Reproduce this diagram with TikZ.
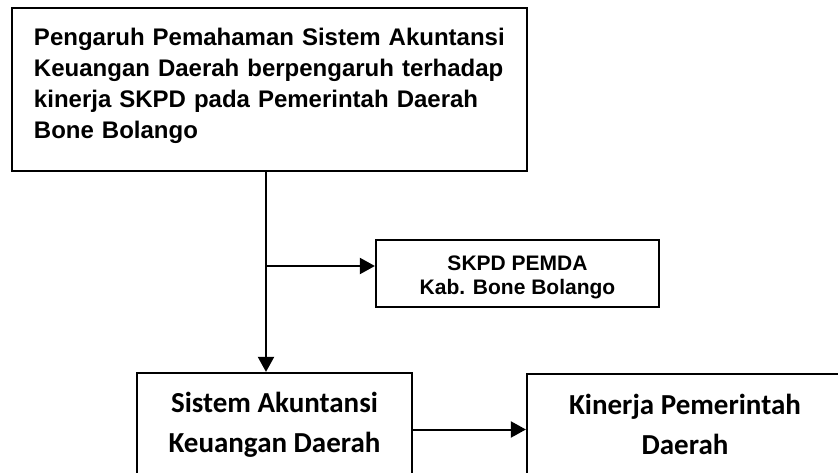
\documentclass[tikz,border=0pt]{standalone}
\usepackage{fontspec}
\setmainfont{Liberation Sans}
\newfontfamily\calibri{Carlito}
\usetikzlibrary{arrows.meta, positioning}

\tikzset{
  box/.style={draw, line width=2.2pt, inner sep=0pt},
  arr/.style={line width=2pt, -{Triangle[length=15pt,width=16pt]}},
}

\begin{document}
\begin{tikzpicture}[x=1pt, y=-1pt]
  \path[use as bounding box, fill=white] (0,0) rectangle (838,473);
  \clip (0,0) rectangle (838,473);

  \node[box, minimum width=515pt, minimum height=163pt, text width=471pt, align=left,
        font=\bfseries\fontsize{24}{31}\selectfont] (pg) at (269.5,89.5)
    {Pengaruh Pemahaman Sistem Akuntansi\\ Keuangan Daerah berpengaruh terhadap\\ kinerja SKPD pada Pemerintah Daerah\\ Bone Bolango\rule[-13pt]{0pt}{0pt}};
  \node[box, minimum width=283pt, minimum height=67pt, align=center,
        font=\bfseries\fontsize{21}{24}\selectfont] (sk) at (517.5,273.5)
    {\rule{0pt}{22pt}SKPD PEMDA\\ Kab. Bone Bolango};
  \node[box, minimum width=275pt, minimum height=103pt, align=center,
        font=\calibri\bfseries\fontsize{29}{40}\selectfont] (sa) at (274.5,424.5)
    {Sistem Akuntansi\\ Keuangan Daerah};
  \node[box, minimum width=316pt, minimum height=101pt, align=center,
        font=\calibri\bfseries\fontsize{29}{40.5}\selectfont] (kp) at (685,424.5)
    {Kinerja Pemerintah\\ Daerah};

  \coordinate (jn) at (266,266);
  \draw[line width=2pt] (jn |- pg.south) -- (jn);
  \draw[arr] (jn) -- (jn |- sa.north);
  \draw[arr] (jn) -- (jn -| sk.west);
  \draw[arr] ([yshift=-5pt]sa.east) -- ([yshift=-5pt]kp.west);
\end{tikzpicture}
\end{document}
